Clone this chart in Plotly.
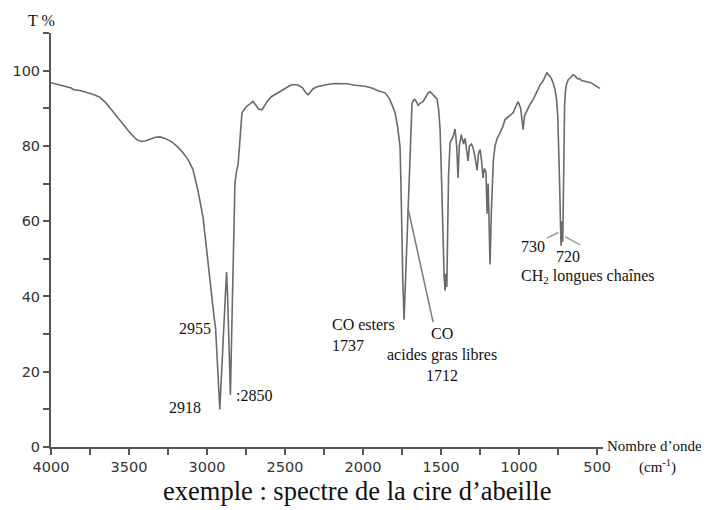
import plotly.graph_objects as go

# Wavenumber (cm-1) and transmittance (%)
wavenumber = [
    4000, 3970, 3942, 3900, 3870, 3859, 3830, 3800, 3780, 3750, 3720, 3686, 3650, 3620, 3603,
    3570, 3526, 3490, 3449, 3420, 3397, 3360, 3330, 3301, 3270, 3240, 3218, 3185, 3154, 3120,
    3090, 3060, 3026, 3000, 2981, 2965, 2955, 2945, 2935, 2925, 2918, 2911, 2904, 2894, 2885,
    2875, 2868, 2860, 2850, 2843, 2836, 2833, 2827, 2821, 2810, 2801, 2790, 2776, 2760, 2744,
    2720, 2705, 2690, 2670, 2647, 2620, 2590, 2560, 2532, 2500, 2470, 2449, 2420, 2400, 2385,
    2370, 2353, 2340, 2320, 2295, 2260, 2220, 2180, 2147, 2100, 2060, 2019, 1980, 1940, 1900,
    1859, 1830, 1810, 1795, 1780, 1770, 1763, 1757, 1753, 1745, 1737, 1730, 1722, 1716, 1712,
    1707, 1700, 1692, 1686, 1675, 1667, 1655, 1647, 1635, 1615, 1595, 1583, 1570, 1555, 1538,
    1526, 1515, 1506, 1496, 1488, 1480, 1474, 1469, 1463, 1458, 1452, 1442, 1430, 1423, 1410,
    1400, 1391, 1383, 1370, 1356, 1346, 1335, 1327, 1318, 1305, 1295, 1282, 1269, 1260, 1250,
    1240, 1231, 1222, 1212, 1205, 1198, 1186, 1178, 1165, 1154, 1140, 1122, 1105, 1090, 1060,
    1038, 1020, 1006, 990, 974, 965, 949, 930, 910, 890, 875, 865, 850, 840, 830,
    821, 810, 801, 790, 782, 770, 760, 752, 745, 740, 735, 731, 727, 724, 720,
    716, 712, 708, 703, 695, 685, 670, 654, 640, 625, 612, 600, 585, 570, 555,
    540, 520, 500, 482,
]
transmittance = [
    96.8, 96.5, 96.2, 95.7, 95.4, 95.0, 94.9, 94.6, 94.3, 94.0, 93.5, 92.9, 91.5, 90.0, 89.1,
    87.5, 85.1, 83.3, 81.6, 81.2, 81.3, 81.9, 82.3, 82.4, 82.0, 81.4, 80.8, 79.6, 78.2, 76.3,
    73.7, 68.5, 61.2, 51.5, 43.6, 38.5, 34.6, 31.5, 24.0, 14.0, 10.0, 16.0, 22.0, 32.0, 41.0,
    46.5, 40.0, 28.0, 13.8, 28.0, 42.0, 47.9, 60.0, 70.2, 73.5, 75.0, 81.0, 88.8, 89.8, 90.6,
    91.3, 91.8, 91.0, 89.8, 89.6, 91.5, 93.0, 93.8, 94.4, 95.3, 96.0, 96.3, 96.2, 95.8, 95.3,
    94.3, 93.6, 94.2, 95.2, 95.7, 96.1, 96.4, 96.6, 96.6, 96.5, 96.2, 96.0, 95.8, 95.3, 94.6,
    94.1, 92.5, 90.5, 88.8, 85.5, 82.0, 79.8, 70.0, 58.0, 44.0, 33.8, 42.0, 52.0, 60.0, 63.5,
    70.0, 79.5, 87.0, 91.3, 92.3, 92.3, 91.5, 90.8, 91.3, 91.8, 93.2, 94.1, 94.4, 93.8, 93.1,
    92.5, 89.5, 84.3, 70.0, 55.0, 45.0, 41.5, 46.0, 42.5, 60.0, 72.0, 80.9, 82.0, 82.4, 84.5,
    80.0, 71.5, 80.0, 83.0, 80.5, 82.0, 78.0, 76.0, 80.0, 80.5, 79.5, 77.0, 73.5, 78.0, 79.0,
    76.0, 71.5, 74.0, 73.0, 62.0, 70.0, 48.5, 62.0, 76.0, 80.0, 82.0, 83.5, 85.0, 87.0, 88.0,
    88.8, 90.5, 91.8, 90.0, 84.3, 88.0, 89.5, 91.0, 92.3, 93.8, 95.3, 96.3, 97.0, 97.8, 99.0,
    99.5, 98.8, 98.4, 97.6, 96.8, 95.0, 92.5, 88.0, 80.0, 70.0, 60.0, 53.5, 58.0, 60.0, 54.5,
    68.0, 84.0, 91.0, 94.5, 96.5, 97.6, 98.1, 98.9, 98.6, 97.8, 97.9, 97.4, 97.2, 97.0, 96.8,
    96.8, 96.3, 95.8, 95.3,
]

x_ticks = [4000, 3500, 3000, 2500, 2000, 1500, 1000, 500]
y_ticks = [0, 20, 40, 60, 80, 100]

SERIF = "Liberation Serif, Times New Roman, serif"
SANS = "DejaVu Sans, Arial, sans-serif"
AXIS_COL = "#555555"

fig = go.Figure()
fig.add_trace(go.Scatter(
    x=wavenumber, y=transmittance, mode="lines",
    line=dict(color="#6a6a6a", width=1.6),
    hoverinfo="x+y", showlegend=False,
))

# leader lines
fig.add_shape(type="line", xref="x", yref="y", x0=1712, y0=63.5, x1=1551, y1=33.2,
              line=dict(color="#7a7a7a", width=1.5))
fig.add_shape(type="line", xref="x", yref="y", x0=822, y0=55.5, x1=748, y1=57.0,
              line=dict(color="#9a9a9a", width=1.5))
fig.add_shape(type="line", xref="x", yref="y", x0=705, y0=55.9, x1=609, y1=53.7,
              line=dict(color="#9a9a9a", width=1.5))

af = dict(family=SERIF, size=16, color="#111111")
ann = [
    dict(x=3077, y=31.6, text="2955", xanchor="center", yanchor="middle"),
    dict(x=3141, y=10.4, text="2918", xanchor="center", yanchor="middle"),
    dict(x=2830, y=13.6, text=":2850", xanchor="left", yanchor="middle"),
    dict(x=2212, y=29.8, text="CO esters<br>1737", xanchor="left", yanchor="middle", align="left"),
    dict(x=1494, y=24.7, text="CO<br>acides gras libres<br>1712", xanchor="center", yanchor="middle", align="center"),
    dict(x=910, y=53.2, text="730", xanchor="center", yanchor="middle"),
    dict(x=686, y=50.5, text="720", xanchor="center", yanchor="middle"),
    dict(x=1000, y=45.2, text="CH<sub>2</sub> longues chaînes", xanchor="left", yanchor="middle"),
]
for a in ann:
    fig.add_annotation(xref="x", yref="y", showarrow=False, font=af, **a)

fig.add_annotation(xref="paper", yref="paper", x=1.0035, y=0.0024, text="Nombre d’onde",
                   xanchor="left", yanchor="middle", showarrow=False,
                   font=dict(family=SERIF, size=15, color="#111111"))
fig.add_annotation(xref="paper", yref="paper", x=1.098, y=-0.0459, text="(cm<sup>-1</sup>)",
                   xanchor="center", yanchor="middle", showarrow=False,
                   font=dict(family=SERIF, size=15, color="#111111"))
fig.add_annotation(xref="paper", yref="paper", x=-0.018, y=1.031, text="T %",
                   xanchor="center", yanchor="middle", showarrow=False, font=af)
fig.add_annotation(xref="paper", yref="paper", x=0.554, y=-0.106,
                   text="exemple : spectre de la cire d’abeille",
                   xanchor="center", yanchor="middle", showarrow=False,
                   font=dict(family=SERIF, size=26.5, color="#111111"))

fig.update_xaxes(
    range=[4000, 462], tickmode="array", tickvals=x_ticks, ticktext=[str(v) for v in x_ticks],
    showgrid=False, zeroline=False, showline=True, linecolor=AXIS_COL, linewidth=2,
    ticks="outside", ticklen=6, tickwidth=1.5, tickcolor=AXIS_COL,
    tickfont=dict(family=SANS, size=14.5, color="#333333"),
    minor=dict(tickmode="linear", tick0=0, dtick=250, ticks="outside", ticklen=6,
               tickwidth=1.5, tickcolor=AXIS_COL, showgrid=False),
)
fig.update_yaxes(
    range=[0, 110], tickmode="array", tickvals=y_ticks, ticktext=[str(v) for v in y_ticks],
    showgrid=False, zeroline=False, showline=True, linecolor=AXIS_COL, linewidth=2,
    ticks="outside", ticklen=6, tickwidth=1.5, tickcolor=AXIS_COL,
    tickfont=dict(family=SANS, size=14.5, color="#333333"),
    minor=dict(tickmode="linear", tick0=0, dtick=10, ticks="outside", ticklen=6,
               tickwidth=1.5, tickcolor=AXIS_COL, showgrid=False),
)
# the page body has an 8px default margin; size the figure to fit the window
fig.update_layout(
    width=701, height=502,
    margin=dict(l=43, r=106, t=25, b=63, autoexpand=False),
    plot_bgcolor="white", paper_bgcolor="white",
)
fig.write_html("out.html")
